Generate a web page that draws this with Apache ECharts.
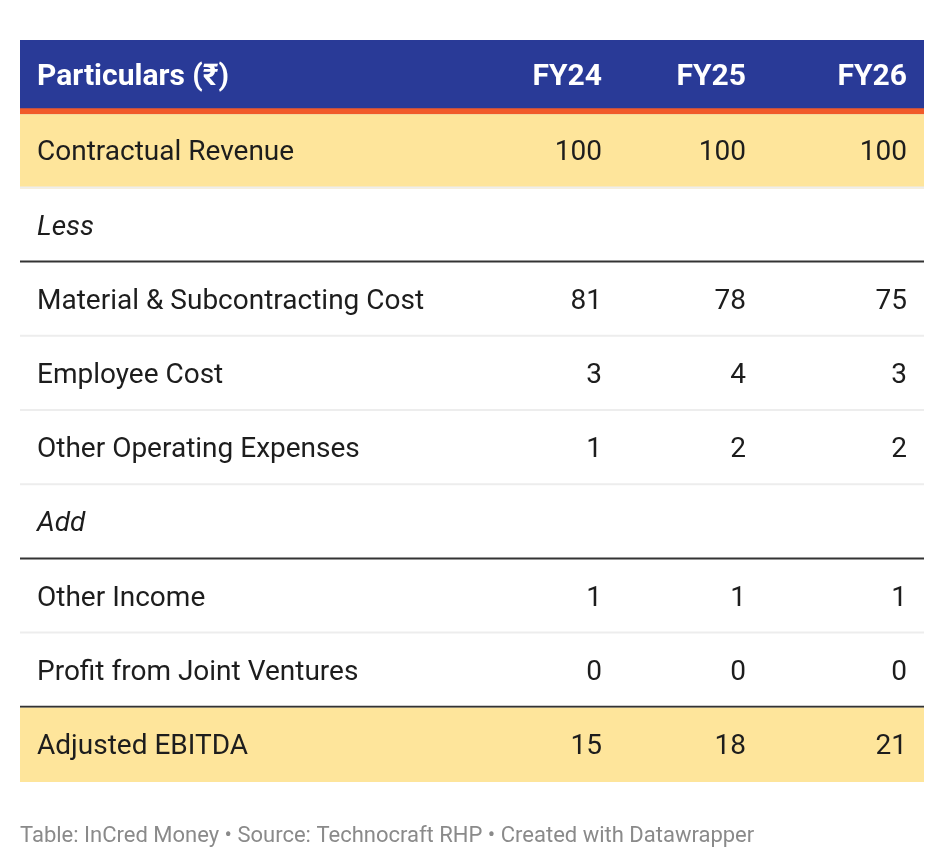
<!DOCTYPE html>
<html>
<head>
<meta charset="utf-8">
<script src="https://cdn.jsdelivr.net/npm/echarts@6/dist/echarts.min.js"></script>
<style>
  html, body { margin: 0; padding: 0; background: #fff; }
  #table { width: 944px; height: 868px; }
</style>
</head>
<body>
<div id="table"></div>
<script>
// table rows (first one is the header)
var rowLabels = ['Particulars (₹)', 'Contractual Revenue', 'Less', 'Material & Subcontracting Cost',
    'Employee Cost', 'Other Operating Expenses', 'Add', 'Other Income', 'Profit from Joint Ventures', 'Adjusted EBITDA'];
var rowKinds = ['header', 'total', 'section', 'item', 'item', 'item', 'section', 'item', 'item', 'total'];
var columns = ['FY24', 'FY25', 'FY26'];
var fy24 = [null, 100, null, 81, 3, 1, null, 1, 0, 15];
var fy25 = [null, 100, null, 78, 4, 2, null, 1, 0, 18];
var fy26 = [null, 100, null, 75, 3, 2, null, 1, 0, 21];
var footer = 'Table: InCred Money • Source: Technocraft RHP • Created with Datawrapper';

var colRight = [582, 726, 887];   // right edge of each number column, from table left
var font = 'Roboto, "Noto Sans", sans-serif';

var chart = echarts.init(document.getElementById('table'));

function renderRow(params, api) {
    var row = api.value(0);
    var kind = rowKinds[row];
    var cs = params.coordSys;
    var h = api.size([0, 1])[1];
    var yc = api.coord([0, row])[1];
    var top = yc - h / 2;
    var x0 = cs.x, w = cs.width;
    var kids = [];

    if (kind == 'header') {
        kids.push({type: 'rect', shape: {x: x0, y: top, width: w, height: h}, style: {fill: '#293a97'}});
        kids.push({type: 'rect', shape: {x: x0, y: top + h - 6, width: w, height: 6}, style: {fill: '#f15a2a'}});
    } else if (kind == 'total') {
        kids.push({type: 'rect', shape: {x: x0, y: top, width: w, height: h}, style: {fill: '#fee59b'}});
    }

    // line under the row
    var next = rowKinds[row + 1];
    if (kind != 'header' && next) {
        var dark = (kind == 'section' || next == 'total');
        kids.push({type: 'rect', shape: {x: x0, y: top + h - 2, width: w, height: 2},
            style: {fill: dark ? '#333333' : '#ededed'}});
    }

    var head = kind == 'header';
    var mid = head ? top + (h - 6) / 2 + 3 : yc + 2;
    var color = head ? '#ffffff' : '#1d1d1d';
    var f = head ? 'bold 30px ' + font : '28px ' + font;
    kids.push({type: 'text', style: {
        x: x0 + 17, y: mid, text: rowLabels[row], fill: color,
        font: (kind == 'section' ? 'italic ' : '') + f,
        verticalAlign: 'middle', align: 'left'
    }});

    var vals = head ? columns : [fy24[row], fy25[row], fy26[row]];
    for (var i = 0; i < 3; i++) {
        if (vals[i] == null) continue;
        kids.push({type: 'text', style: {
            x: x0 + colRight[i], y: mid, text: String(vals[i]), fill: color,
            font: f, verticalAlign: 'middle', align: 'right'
        }});
    }
    return {type: 'group', children: kids};
}

var option = {
    animation: false,
    title: {
        text: footer, left: 20, top: 825, padding: 0,
        textStyle: {color: '#8a8a8a', fontSize: 22, fontWeight: 'normal', fontFamily: font}
    },
    grid: {left: 20, right: 20, top: 40, bottom: 86},
    xAxis: {type: 'value', min: 0, max: 1, show: false},
    yAxis: {type: 'category', data: rowLabels, inverse: true, show: false},
    series: [{
        type: 'custom',
        renderItem: renderRow,
        data: rowLabels.map(function (d, i) { return [i]; }),
        encode: {y: 0}
    }]
};
chart.setOption(option);
</script>
</body>
</html>
